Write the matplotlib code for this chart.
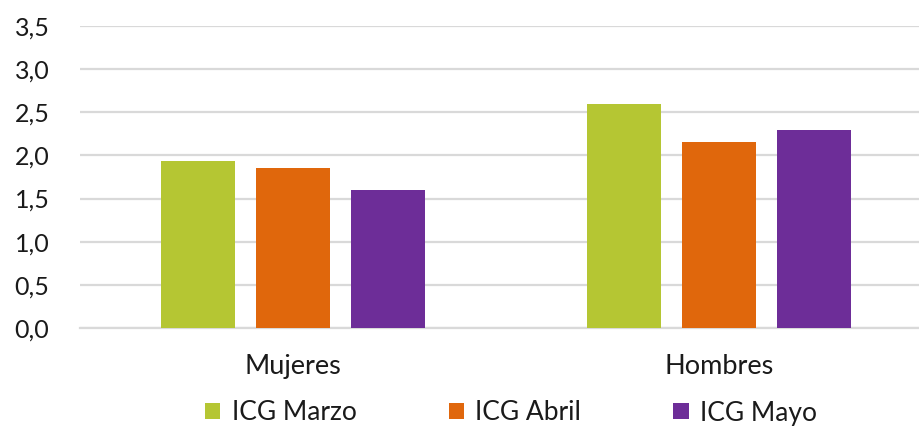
"""Bar chart: ICG by sex, March to May."""

import matplotlib.pyplot as plt
import numpy as np

categories = ["Mujeres", "Hombres"]
series_names = ["ICG Marzo", "ICG Abril", "ICG Mayo"]
icg_marzo = [1.93, 2.60]
icg_abril = [1.85, 2.16]
icg_mayo = [1.60, 2.29]
y_ticks = [0.0, 0.5, 1.0, 1.5, 2.0, 2.5, 3.0, 3.5]

colors = ["#b5c633", "#e0670c", "#6d2d98"]

plt.rcParams["font.family"] = ["Lato", "DejaVu Sans"]

fig = plt.figure(figsize=(9.2, 4.28), dpi=100)
ax = fig.add_axes([80 / 920, 100 / 428, 852 / 920, 302 / 428])

x = np.arange(len(categories))
width = 0.176
offset = 0.223
for i, (name, vals) in enumerate(zip(series_names, [icg_marzo, icg_abril, icg_mayo])):
    ax.bar(x + (i - 1) * offset, vals, width, color=colors[i], label=name, zorder=3)

ax.set_xlim(-0.5, 1.5)
ax.set_ylim(0, 3.5)
ax.set_yticks(y_ticks)
ax.set_yticklabels([f"{v:.1f}".replace(".", ",") for v in y_ticks])
ax.set_xticks(x)
ax.set_xticklabels(categories)
ax.tick_params(axis="y", length=0, pad=22, labelsize=18, colors="#1a1a1a")
ax.tick_params(axis="x", length=0, pad=19, labelsize=19.5, colors="#1a1a1a")
ax.grid(axis="y", color="#d9d9d9", linewidth=1.6, zorder=0)
for side in ["top", "right", "left"]:
    ax.spines[side].set_visible(False)
ax.spines["bottom"].set_color("#d9d9d9")
ax.spines["bottom"].set_linewidth(1.6)

fig.legend(
    loc="center",
    bbox_to_anchor=(511 / 920, 1 - 413 / 428),
    ncol=3,
    frameon=False,
    fontsize=19,
    handlelength=0.58,
    handleheight=0.58,
    handletextpad=0.42,
    columnspacing=3.5,
    labelcolor="#1a1a1a",
)

fig.savefig("out.png", dpi=100)
plt.close(fig)
